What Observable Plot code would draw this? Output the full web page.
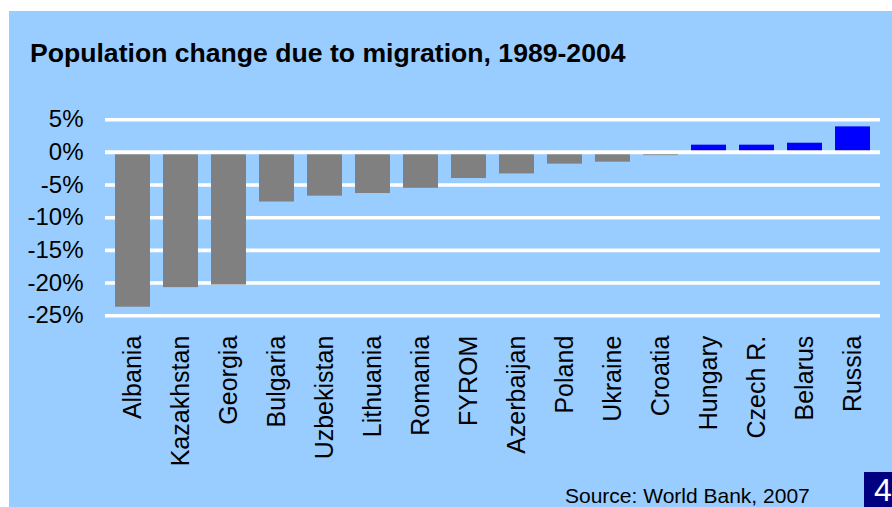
<!DOCTYPE html>
<html>
<head>
<meta charset="utf-8">
<script src="https://cdn.jsdelivr.net/npm/d3@7"></script>
<script src="https://cdn.jsdelivr.net/npm/@observablehq/plot@0.6"></script>
<style>
  html, body { margin: 0; padding: 0; background: #ffffff; }
  body { width: 892px; height: 507px; overflow: hidden; position: relative; font-family: "Liberation Sans", Arial, sans-serif; }
  #panel { position: absolute; left: 9px; top: 11px; width: 883px; height: 496px; background: #99ccff; overflow: hidden; }
  #title { position: absolute; left: 21px; top: 27px; font-size: 26.6px; font-weight: bold; color: #000; white-space: nowrap; line-height: 30px; }
  #chart { position: absolute; left: 0; top: 0; }
  #source { position: absolute; left: 556px; top: 473px; font-size: 21px; color: #000; white-space: nowrap; line-height: 24px; }
  #page { position: absolute; left: 855px; top: 461px; width: 40px; height: 40px; background: #000080; color: #fff; font-size: 32px; line-height: 36px; padding-left: 10px; box-sizing: border-box; }
</style>
</head>
<body>
<div id="panel">
  <div id="title">Population change due to migration, 1989-2004</div>
  <div id="chart"></div>
  <div id="source">Source: World Bank, 2007</div>
  <div id="page">4</div>
</div>
<script>
const countries = ["Albania", "Kazakhstan", "Georgia", "Bulgaria", "Uzbekistan", "Lithuania", "Romania", "FYROM", "Azerbaijan", "Poland", "Ukraine", "Croatia", "Hungary", "Czech R.", "Belarus", "Russia"];
const changes = [-23.7, -20.7, -20.3, -7.6, -6.7, -6.3, -5.5, -4.0, -3.3, -1.8, -1.5, -0.5, 1.1, 1.1, 1.4, 3.9];
const yTicks = [5, 0, -5, -10, -15, -20, -25];

const data = countries.map((c, i) => ({country: c, value: changes[i]}));

const chart = Plot.plot({
  width: 883,
  height: 470,
  marginLeft: 96,
  marginRight: 12,
  marginTop: 108.2,
  marginBottom: 165.8,
  style: {background: "transparent", fontFamily: "'Liberation Sans', Arial, sans-serif", color: "#000"},
  x: {domain: countries, paddingInner: 0.28, paddingOuter: 0.14, label: null},
  y: {domain: [-25, 5], label: null},
  marks: [
    Plot.ruleY(yTicks.filter(t => t !== 0), {stroke: "#ffffff", strokeWidth: 3.6}),
    Plot.barY(data, {x: "country", y: "value", fill: d => d.value < 0 ? "#808080" : "#0000ff"}),
    Plot.ruleY([0], {stroke: "#ffffff", strokeWidth: 4, dx: 0}),
    Plot.axisY({ticks: yTicks, tickSize: 0, tickPadding: 22, tickFormat: d => d + "%", fontSize: 24, label: null}),
    Plot.axisX({tickSize: 0, tickRotate: -90, tickPadding: 20, fontSize: 25, label: null})
  ]
});
document.getElementById("chart").appendChild(chart);
</script>
</body>
</html>
